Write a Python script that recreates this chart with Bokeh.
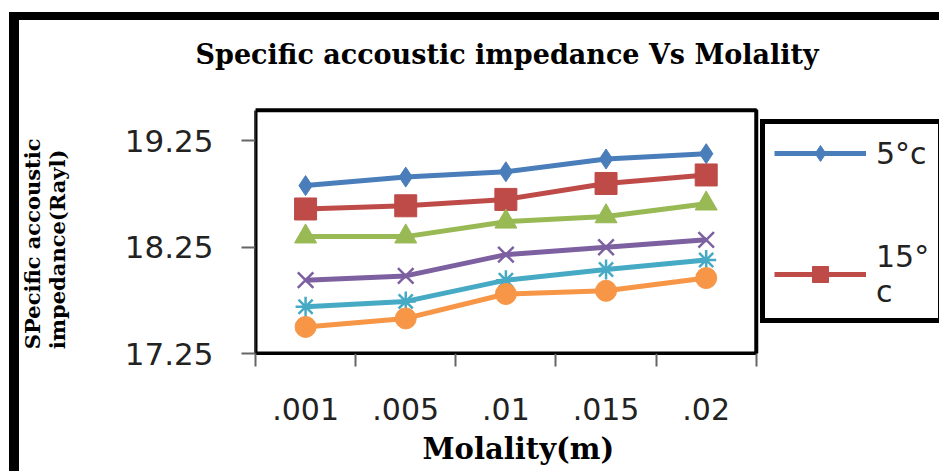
from bokeh.plotting import figure
from bokeh.models import Range1d, FixedTicker, Legend, LegendItem, BoxAnnotation, Title
from bokeh.embed import file_html
from bokeh.resources import INLINE

# ---- data ----
x_labels = [".001", ".005", ".01", ".015", ".02"]
y_ticks = [17.25, 18.25, 19.25]
y_min, y_max = 17.25, 19.54
series_names = ["5°c", "15°\nc", "25°c", "35°c", "45°c", "55°c"]
s1 = [18.83, 18.91, 18.96, 19.08, 19.13]
s2 = [18.61, 18.64, 18.70, 18.85, 18.93]
s3 = [18.35, 18.35, 18.49, 18.54, 18.66]
s4 = [17.94, 17.98, 18.18, 18.25, 18.32]
s5 = [17.69, 17.74, 17.94, 18.04, 18.13]
s6 = [17.50, 17.58, 17.81, 17.84, 17.96]
series = [s1, s2, s3, s4, s5, s6]

colors = ["#4A7EBB", "#BE4B48", "#98B954", "#7D60A0", "#46AAC5", "#F79646"]
markers = ["diamond", "square", "triangle", "x", "asterisk", "circle"]
msizes = [20, 22, 22, 22, 20, 21]

n = len(x_labels)
xs = [i + 0.5 for i in range(n)]

# layout (pixels): canvas starts at x=19, y=20 after the outer frame border
CW, CH = 920, 451
ML, MT, MB = 234, 64, 126
box_w, box_h = 495, 237           # plot box inside the frame
frame_w, frame_h = CW - ML, CH - MT - MB
x_end = n * frame_w / box_w
y_end = y_min + frame_h * (y_max - y_min) / box_h

p = figure(width=CW + 10, height=CH + 8, output_backend="svg", toolbar_location=None,
           x_range=Range1d(0, x_end), y_range=Range1d(y_min, y_end),
           min_border_left=ML, min_border_right=0, min_border_top=MT,
           min_border_bottom=MB, background_fill_color="white",
           border_fill_color="white")
p.styles = {"margin-left": "9px", "margin-top": "12px",
            "border-left": "10px solid black", "border-top": "8px solid black"}

p.outline_line_color = None
p.xgrid.visible = False
p.ygrid.visible = False

serif = "DejaVu Serif"

# title
p.title.text = "Specific accoustic impedance Vs Molality"
p.title.align = "left"
p.title.offset = -60
p.title.text_font = serif
p.title.text_font_style = "bold"
p.title.text_font_size = "27px"
p.title.text_color = "black"
p.title.standoff = 32

# plot box
p.add_layout(BoxAnnotation(left=0, right=n, bottom=y_min, top=y_max,
                           fill_alpha=0, line_color="black", line_width=4,
                           line_alpha=1.0))

# x axis
p.xaxis.bounds = (0, n)
p.xaxis.ticker = FixedTicker(ticks=xs, minor_ticks=list(range(n + 1)))
p.xaxis.major_label_overrides = {x: l for x, l in zip(xs, x_labels)}
p.xaxis.major_tick_out = 0
p.xaxis.major_tick_in = 0
p.xaxis.minor_tick_out = 13
p.xaxis.minor_tick_in = 0
p.xaxis.minor_tick_line_color = "#666666"
p.xaxis.minor_tick_line_width = 2
p.xaxis.axis_line_color = "black"
p.xaxis.axis_line_width = 3
p.xaxis.major_label_standoff = 31
p.xaxis.major_label_text_font = "DejaVu Sans"
p.xaxis.major_label_text_font_size = "30px"
p.xaxis.major_label_text_color = "#222222"

# y axis
p.yaxis.bounds = (y_min, y_max)
p.yaxis.ticker = FixedTicker(ticks=y_ticks, minor_ticks=[])
p.yaxis.major_tick_out = 14
p.yaxis.major_tick_in = 0
p.yaxis.major_tick_line_color = "#666666"
p.yaxis.major_tick_line_width = 2
p.yaxis.axis_line_color = "#444444"
p.yaxis.axis_line_width = 3
p.yaxis.major_label_standoff = 28
p.yaxis.major_label_text_font = "DejaVu Sans"
p.yaxis.major_label_text_font_size = "31px"
p.yaxis.major_label_text_color = "#222222"

# axis titles (placed as panel titles so they can sit where the chart has them)
xlab = Title(text="Molality(m)", align="left", offset=167, standoff=14,
             text_font=serif, text_font_style="bold", text_font_size="29px",
             text_color="black")
p.add_layout(xlab, "below")
ylab = Title(text="SPecific accoustic\nimpedance(Rayl)\n \n ", align="right", offset=53,
             standoff=0, vertical_align="top", text_font=serif,
             text_font_style="bold", text_font_size="21px", text_color="black")
p.add_layout(ylab, "left")

rends = []
for vals, c, m, ms in zip(series, colors, markers, msizes):
    ln = p.line(xs, vals, line_color=c, line_width=5)
    if m in ("x", "asterisk"):
        sc = p.scatter(xs, vals, marker=m, size=ms, line_color=c, line_width=2.5,
                       fill_color=c)
    else:
        sc = p.scatter(xs, vals, marker=m, size=ms, line_color=c, fill_color=c)
    rends.append([ln, sc])

items = [LegendItem(label=series_names[i], renderers=rends[i]) for i in range(2)]
legend = Legend(items=items, location=(505, 30), orientation="vertical")
legend.border_line_color = "black"
legend.border_line_alpha = 1.0
legend.border_line_width = 5
legend.padding = 9
legend.spacing = 66
legend.margin = 0
legend.glyph_width = 92
legend.glyph_height = 40
legend.label_standoff = 10
legend.label_text_font = "DejaVu Sans"
legend.label_text_font_size = "30px"
legend.label_text_color = "#222222"
legend.background_fill_color = "white"
legend.background_fill_alpha = 1.0
p.add_layout(legend)

open("out.html", "w").write(file_html(p, INLINE))
